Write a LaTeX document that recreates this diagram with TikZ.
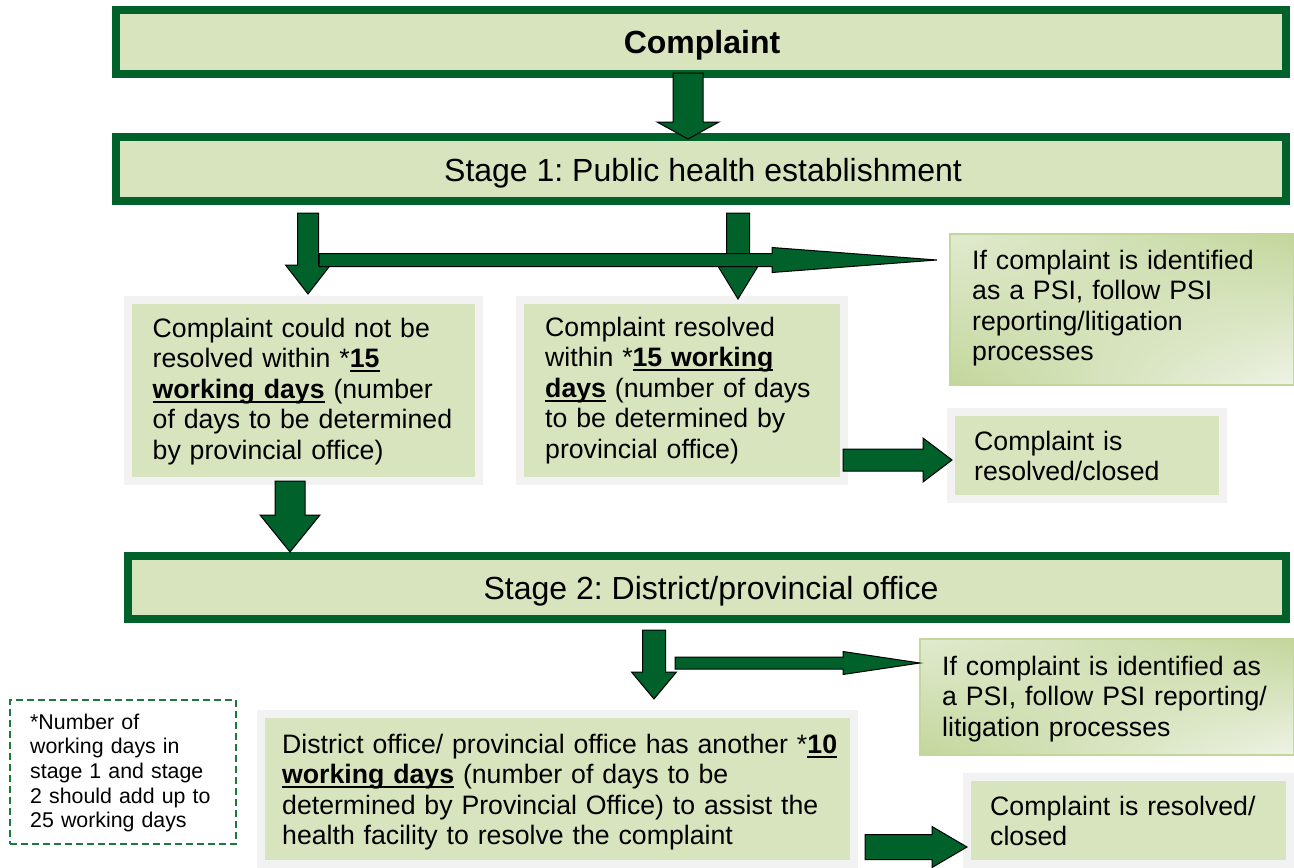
\documentclass[tikz,border=0pt]{standalone}
\usepackage{fontspec}
\setmainfont{Liberation Sans}
\usetikzlibrary{shadings}
\frenchspacing
\newsavebox\myulbox
\newcommand\ulb[1]{\leavevmode\sbox\myulbox{#1}\rlap{\rule[-4.7pt]{\wd\myulbox}{2.2pt}}\usebox\myulbox}
\definecolor{dkg}{HTML}{00612A}
\definecolor{ltg}{HTML}{D7E4BD}
\definecolor{grayf}{HTML}{F2F2F2}
\definecolor{psib}{HTML}{C3D69B}
\definecolor{psid}{HTML}{C3D69B}
\definecolor{psil}{HTML}{EEF3E6}
\definecolor{notegreen}{HTML}{1E7A3A}
\tikzset{
 stagebox/.style={draw=dkg, line width=8pt, fill=ltg, inner sep=0pt, outer sep=0pt, anchor=north west},
 framebox/.style={draw=grayf, line width=8pt, fill=ltg, inner sep=0pt, outer sep=0pt, anchor=north west},
 psibox/.style={upper left=psil!70!psid, upper right=psid, lower left=psid, lower right=psil, draw=psib, line width=2pt, inner sep=0pt, outer sep=0pt, anchor=north west},
 notebox/.style={draw=notegreen, line width=1.7pt, dash pattern=on 7pt off 4pt, inner sep=0pt, anchor=north west},
 body/.style={anchor=base west, inner sep=0pt, align=left, text width=#1, font=\fontsize{26.67pt}{30.5pt}\selectfont},
 body/.default=560pt,
 notetxt/.style={anchor=base west, inner sep=0pt, align=left, text width=220pt, font=\fontsize{21.33pt}{24.7pt}\selectfont},
 stagetxt/.style={anchor=base, inner sep=0pt, font=\fontsize{32pt}{38pt}\selectfont},
 blk/.style={fill=dkg, draw=black, line width=1pt, line join=miter},
}
\newcommand\dnarr[6]{\filldraw[blk] ({#1-#5},#2) -- ({#1+#5},#2) -- ({#1+#5},#3) -- ({#1+#6},#3) -- (#1,#4) -- ({#1-#6},#3) -- ({#1-#5},#3) -- cycle;}
\newcommand\rtarr[6]{\filldraw[blk] (#1,{#2-#5}) -- (#3,{#2-#5}) -- (#3,{#2-#6}) -- (#4,#2) -- (#3,{#2+#6}) -- (#3,{#2+#5}) -- (#1,{#2+#5}) -- cycle;}
\begin{document}
\begin{tikzpicture}[x=1pt,y=-1pt]
\useasboundingbox[fill=white] (0,0) rectangle (1294,868);

% main stage boxes
\node[stagebox, minimum width=1170pt, minimum height=64pt] (comp) at (116,10) {};
\node[stagebox, minimum width=1170pt, minimum height=64pt] (s1) at (116,137) {};
\node[stagebox, minimum width=1158pt, minimum height=63pt] (s2) at (128,556) {};

% PSI boxes
\node[psibox, shade, minimum width=344pt, minimum height=151pt] (psi1) at (950,234) {};
\node[psibox, shade, minimum width=374pt, minimum height=116pt] (psi2) at (920,639) {};

% framed boxes
\node[framebox, minimum width=351pt, minimum height=181pt] (A) at (128,300) {};
\node[framebox, minimum width=324pt, minimum height=181pt] (B) at (520,300) {};
\node[framebox, minimum width=272pt, minimum height=87pt] (R1) at (951,412) {};
\node[framebox, minimum width=593pt, minimum height=150pt] (D) at (261,714) {};
\node[framebox, minimum width=323pt, minimum height=87pt] (R2) at (967,777) {};

% note
\node[notebox, minimum width=226pt, minimum height=144pt] (note) at (9,699) {};

% texts
\node[stagetxt, font=\fontsize{32pt}{38pt}\selectfont\bfseries] (compt) at (702,53) {Complaint};
\node[stagetxt] (s1t) at (703,181) {Stage 1: Public health establishment};
\node[stagetxt] (s2t) at (711,599) {Stage 2: District/provincial office};

\node[body] (At) at (152.5,337) {Complaint could not be\\ resolved within *\ulb{\textbf{15}}\\ \ulb{\textbf{working days}} (number\\ of days to be determined\\ by provincial office)};
\node[body] (Bt) at (545,336) {Complaint resolved\\ within *\ulb{\textbf{15 working}}\\ \ulb{\textbf{days}} (number of days\\ to be determined by\\ provincial office)};
\node[body] (psi1t) at (972,269) {If complaint is identified\\ as a PSI, follow PSI\\ reporting/litigation\\ processes};
\node[body] (R1t) at (974,450) {Complaint is\\ resolved/closed};
\node[body] (psi2t) at (942,675) {If complaint is identified as\\ a PSI, follow PSI reporting/\\ litigation processes};
\node[body=620pt] (Dt) at (282,753) {District office/ provincial office has another *\ulb{\textbf{10}}\\ \ulb{\textbf{working days}} (number of days to be\\ determined by Provincial Office) to assist the\\ health facility to resolve the complaint};
\node[body] (R2t) at (990,815) {Complaint is resolved/\\ closed};
\node[notetxt] (notet) at (30,729) {*Number of\\ working days in\\ stage 1 and stage\\ 2 should add up to\\ 25 working days};

% block arrows
\dnarr{688}{73}{122}{139}{15}{31}
\dnarr{308}{213}{265}{294}{10.5}{22.5}
\dnarr{738}{213}{263}{299}{11.5}{22}
\rtarr{319}{260}{772}{937}{6.5}{12.5}
\dnarr{290}{481}{515}{552}{15}{30}
\rtarr{843}{460}{923}{952}{11}{22}
\dnarr{654}{630}{672}{699}{11.5}{22.5}
\rtarr{675}{663}{843}{920}{6}{11.5}
\rtarr{865}{847}{932}{967}{12.5}{20.5}
\end{tikzpicture}
\end{document}
